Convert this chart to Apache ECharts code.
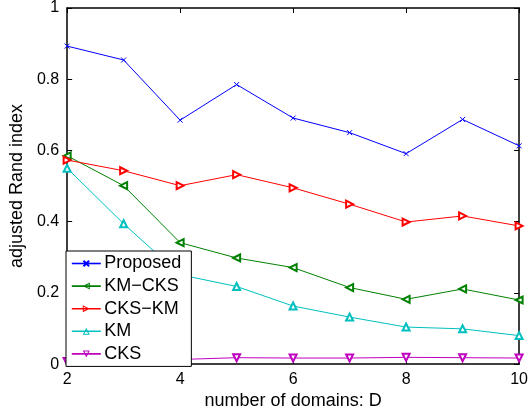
<!DOCTYPE html>
<html><head><meta charset="utf-8">
<script src="https://cdn.jsdelivr.net/npm/echarts@6/dist/echarts.min.js"></script>
<style>html,body{margin:0;padding:0;background:#fff}#c{width:531px;height:415px}</style>
</head><body><div id="c"></div>
<script>
const xValues = [2, 3, 4, 5, 6, 7, 8, 9, 10];
const proposed = [0.893, 0.854, 0.685, 0.785, 0.691, 0.650, 0.591, 0.687, 0.613];
const kmCks = [0.585, 0.501, 0.341, 0.298, 0.271, 0.215, 0.182, 0.211, 0.180];
const cksKm = [0.573, 0.543, 0.501, 0.532, 0.495, 0.449, 0.399, 0.416, 0.388];
const km = [0.550, 0.394, 0.251, 0.218, 0.163, 0.132, 0.104, 0.099, 0.080];
const cks = [0.007, 0.010, 0.013, 0.018, 0.017, 0.017, 0.019, 0.018, 0.017];
const seriesNames = ['Proposed', 'KM\u2212CKS', 'CKS\u2212KM', 'KM', 'CKS'];
const colors = ['#0000ff', '#008000', '#ff0000', '#00bfbf', '#bf00bf'];

const font = 'Liberation Sans, Arial, Helvetica, sans-serif';
const pair = arr => xValues.map((x, i) => [x, arr[i]]);
const chart = echarts.init(document.getElementById('c'), null, {renderer: 'canvas'});

// legend icon: line + hollow triangle (rotation in degrees, screen coords)
function legendIcon(deg) {
  const cx = 14.5, cy = 3.5, a = deg * Math.PI / 180;
  const rot = ([x, y]) => {
    const dx = x - cx, dy = y - cy;
    return [cx + dx * Math.cos(a) - dy * Math.sin(a), cy + dx * Math.sin(a) + dy * Math.cos(a)];
  };
  const outer = [[11, 7], [18, 7], [14.5, 0]].map(rot);
  const inner = [[12.62, 6], [14.5, 2.24], [16.38, 6]].map(rot);
  const poly = pts => 'M' + pts.map(p => p[0].toFixed(2) + ',' + p[1].toFixed(2)).join('L') + 'Z';
  return 'path://M0,2.7L0,4.3L29,4.3L29,2.7Z' + poly(outer) + poly(inner);
}
const iconRot = [null, -90, 90, 0, 180];

function mk(i, data, symbol, rot, size) {
  const color = colors[i];
  return {
    name: seriesNames[i], type: 'line', data: pair(data), symbol, symbolRotate: rot, symbolSize: size,
    showSymbol: true,
    lineStyle: {color, width: 1},
    itemStyle: {color, borderColor: color, borderWidth: 1},
    emphasis: {disabled: true}, animation: false, z: 3
  };
}

const axisCommon = {
  axisLine: {show: true, onZero: false, lineStyle: {color: '#000', width: 1.5}},
  axisTick: {show: true, inside: true, length: 5, lineStyle: {color: '#000', width: 1}},
  splitLine: {show: false}
};

chart.setOption({
  animation: false,
  backgroundColor: '#fff',
  grid: {left: 61, right: 11, top: 8, bottom: 45, containLabel: false},
  legend: {
    orient: 'vertical', left: 66, top: 251,
    data: seriesNames.map((n, i) => i === 0 ? {name: n} : {
      name: n, icon: legendIcon(iconRot[i]),
      itemStyle: {color: colors[i], borderWidth: 0}
    }),
    backgroundColor: '#fff', borderColor: '#000', borderWidth: 1,
    padding: [2.5, 10, 2.5, 5], itemGap: 2.6, itemWidth: 29, itemHeight: 7,
    lineStyle: {width: 1.6},
    textStyle: {fontFamily: font, fontSize: 18, color: '#000', padding: [0, 0, 0, -1.5], lineHeight: 20},
    selectedMode: false
  },
  xAxis: [
    Object.assign({type: 'value', min: 2, max: 10, interval: 2, position: 'bottom',
      name: 'number of domains: D', nameLocation: 'middle', nameGap: 25,
      nameTextStyle: {fontFamily: font, fontSize: 18, color: '#000', verticalAlign: 'top'},
      axisLabel: {fontFamily: font, fontSize: 16, color: '#000', margin: 7}}, axisCommon),
    Object.assign({type: 'value', min: 2, max: 10, interval: 2, position: 'top',
      axisLabel: {show: false}}, axisCommon)
  ],
  yAxis: [
    Object.assign({type: 'value', min: 0, max: 1, interval: 0.2, position: 'left',
      name: 'adjusted Rand index', nameLocation: 'middle', nameGap: 36,
      nameTextStyle: {fontFamily: font, fontSize: 18, color: '#000'},
      axisLabel: {fontFamily: font, fontSize: 16, color: '#000', margin: 8,
        formatter: v => (v === 0 || v === 1) ? String(v) : v.toFixed(1)}}, axisCommon),
    Object.assign({type: 'value', min: 0, max: 1, interval: 0.2, position: 'right',
      axisLabel: {show: false}}, axisCommon)
  ],
  series: [
    mk(0, proposed, 'path://M0,0L10,10M10,0L0,10', 0, 5),
    mk(1, kmCks, 'emptyTriangle', 90, 7),
    mk(2, cksKm, 'emptyTriangle', -90, 7),
    mk(3, km, 'emptyTriangle', 0, 7),
    mk(4, cks, 'emptyTriangle', 180, 7)
  ]
});
</script></body></html>
